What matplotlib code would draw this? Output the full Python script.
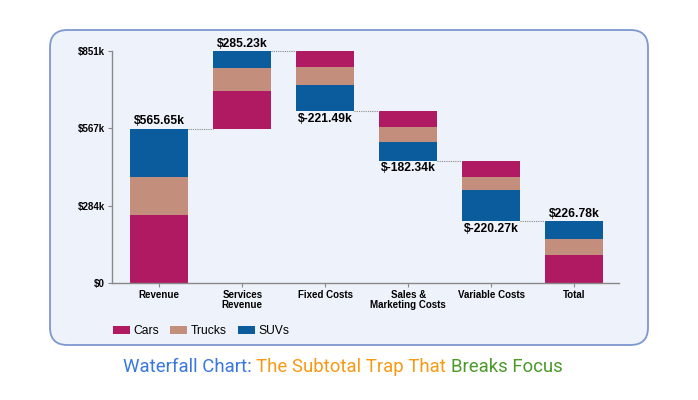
import numpy as np
import matplotlib.pyplot as plt
from matplotlib.patches import FancyBboxPatch, Patch

categories = ["Revenue", "Services\nRevenue", "Fixed Costs", "Sales &\nMarketing Costs",
              "Variable Costs", "Total"]
series = ["Cars", "Trucks", "SUVs"]
cars = [250.0, 139.0, -58.0, -58.0, -57.5, 104.0]
trucks = [140.0, 84.0, -65.0, -53.0, -47.5, 57.0]
suvs = [175.65, 62.23, -98.49, -71.34, -115.27, 65.78]
is_total = [True, False, False, False, False, True]
y_ticks = [0, 284, 567, 851]
y_tick_labels = ["$0", "$284k", "$567k", "$851k"]

colors = {"Cars": "#b01a63", "Trucks": "#c48e7c", "SUVs": "#0b5c9c"}

plt.rcParams["font.family"] = ["Liberation Sans", "DejaVu Sans"]

W, H = 698, 400
fig = plt.figure(figsize=(W / 100, H / 100), dpi=100)
fig.patch.set_facecolor("white")

# rounded panel behind the chart
panel = FancyBboxPatch((50 / W, 1 - 345 / H), 598 / W, 315 / H,
                       boxstyle="round,pad=0,rounding_size=0.025",
                       transform=fig.transFigure, facecolor="#eef3fb",
                       edgecolor="#7d97cf", linewidth=1.3, mutation_aspect=W / H,
                       zorder=-10)
fig.patches.append(panel)

ax = fig.add_axes([112 / W, 1 - 283 / H, (619 - 112) / W, (283 - 51) / H])
ax.set_facecolor("none")

x = np.arange(len(categories))
width = 0.7
level = 0.0
tops = []
for i in range(len(categories)):
    vals = [cars[i], trucks[i], suvs[i]]
    start = 0.0 if is_total[i] else level
    base = start
    for name, v in zip(series, vals):
        ax.bar(x[i], v, width, bottom=base, color=colors[name], linewidth=0)
        base += v
    total = sum(vals)
    end = start + total
    if total >= 0:
        ax.text(x[i], end + 5, f"${total:.2f}k", ha="center", va="bottom",
                fontsize=8.7, fontweight="bold", clip_on=False)
    else:
        ax.text(x[i], end - 5, f"${total:.2f}k", ha="center", va="top",
                fontsize=8.7, fontweight="bold", clip_on=False)
    level = end
    tops.append(end)

# connector lines between bars
for i in range(len(categories) - 1):
    ax.plot([x[i] + width / 2, x[i + 1] - width / 2], [tops[i], tops[i]],
            color="#888888", linewidth=0.8, linestyle=(0, (1, 1)), clip_on=False)

ax.set_xlim(-0.57, 5.54)
ax.set_ylim(0, 851)
ax.set_yticks(y_ticks)
ax.set_yticklabels(y_tick_labels, fontsize=7, fontweight="bold")
ax.set_xticks(x)
ax.set_xticklabels(categories, fontsize=7, fontweight="bold", linespacing=1.0)
ax.tick_params(axis="both", length=3, width=0.8, color="#888888", pad=2)
for s in ["top", "right"]:
    ax.spines[s].set_visible(False)
for s in ["left", "bottom"]:
    ax.spines[s].set_color("#888888")
    ax.spines[s].set_linewidth(1.0)

handles = [Patch(facecolor=colors[n], label=n) for n in series]
fig.legend(handles=handles, loc="center left", bbox_to_anchor=(106 / W, 1 - 331 / H),
           ncol=3, frameon=False, fontsize=8.7, handlelength=1.4, handleheight=0.6,
           columnspacing=0.9, handletextpad=0.3, borderaxespad=0.2)

# multi-coloured title
parts = [("Waterfall Chart: ", "#3a78e0"), ("The Subtotal Trap That ", "#f59a14"),
         ("Breaks Focus", "#4c9a2a")]
fig.canvas.draw()
renderer = fig.canvas.get_renderer()
texts = []
for s, c in parts:
    t = fig.text(0, 1 - 367 / H, s, color=c, fontsize=13.4, family="Roboto", va="center")
    texts.append(t)
widths = [t.get_window_extent(renderer).width for t in texts]
xpos = 123
for t, w in zip(texts, widths):
    t.set_x(xpos / W)
    xpos += w

fig.savefig("out.png", dpi=100)
